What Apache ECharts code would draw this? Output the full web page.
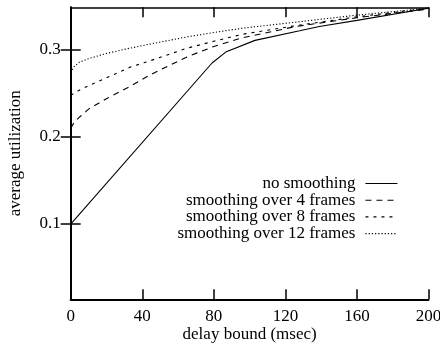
<!DOCTYPE html>
<html>
<head>
<meta charset="utf-8">
<script src="https://cdn.jsdelivr.net/npm/echarts@6/dist/echarts.min.js"></script>
<style>html,body{margin:0;padding:0;background:#fff}#c{width:440px;height:346px}</style>
</head>
<body>
<div id="c"></div>
<script>
// Data
const seriesNames = ['no smoothing', 'smoothing over 4 frames', 'smoothing over 8 frames', 'smoothing over 12 frames'];
const xNoSmooth = [0, 79, 87, 103, 128, 139, 160, 200];
const yNoSmooth = [0.100, 0.285, 0.298, 0.311, 0.322, 0.327, 0.334, 0.348];
const x4 = [0, 2, 5, 10, 20, 33, 45, 65, 80, 96, 126, 160, 200];
const y4 = [0.210, 0.217, 0.223, 0.232, 0.244, 0.258, 0.272, 0.292, 0.304, 0.314, 0.327, 0.337, 0.347];
const x8 = [0, 5, 10, 20, 33, 45, 65, 80, 96, 126, 160, 200];
const y8 = [0.248, 0.254, 0.259, 0.268, 0.280, 0.288, 0.302, 0.310, 0.318, 0.328, 0.338, 0.348];
const x12 = [0, 2, 5, 10, 20, 33, 45, 65, 80, 96, 126, 160, 200];
const y12 = [0.274, 0.281, 0.286, 0.290, 0.296, 0.302, 0.307, 0.315, 0.320, 0.325, 0.332, 0.340, 0.348];
const yTicks = [0.1, 0.2, 0.3];
const xTitle = 'delay bound (msec)';
const yTitle = 'average utilization';

const pairs = (xs, ys) => xs.map((x, i) => [x, ys[i]]);
const FONT = 'Liberation Serif';
const dashes = ['solid', [6, 5], [3, 5], [1.2, 2]];
const allData = [pairs(xNoSmooth, yNoSmooth), pairs(x4, y4), pairs(x8, y8), pairs(x12, y12)];

const chart = echarts.init(document.getElementById('c'), null, {renderer: 'canvas'});
const Y_MIN = 0.0135, Y_MAX = 0.349;
const axisLine = w => ({show: true, lineStyle: {color: '#000', width: w}});
chart.setOption({
  animation: false,
  backgroundColor: '#fff',
  grid: {left: 70.7, right: 11.5, top: 7.3, bottom: 46.7, outerBoundsMode: 'none', containLabel: false},
  textStyle: {fontFamily: FONT},
  legend: {
    orient: 'vertical', right: 42, top: 175, padding: 0,
    align: 'right', itemWidth: 32, itemHeight: 14, itemGap: -0.3,
    itemStyle: {opacity: 0},
    lineStyle: {width: 1.1},
    textStyle: {fontFamily: FONT, fontSize: 17, color: '#000', padding: [0, 5, 0, 0]},
    data: seriesNames,
    inactiveColor: '#000'
  },
  xAxis: [{
    type: 'value', min: 0, max: 200, interval: 40, position: 'bottom',
    name: xTitle, nameLocation: 'middle', nameGap: 27, nameMoveOverlap: false,
    nameTextStyle: {fontFamily: FONT, fontSize: 17, color: '#000'},
    axisLine: axisLine(2),
    axisTick: {show: true, inside: true, length: 10, lineStyle: {color: '#000', width: 1.5}},
    axisLabel: {fontFamily: FONT, fontSize: 17, color: '#000', margin: 9},
    splitLine: {show: false}
  }, {
    type: 'value', min: 0, max: 200, interval: 40, position: 'top',
    axisLine: axisLine(1.5),
    axisTick: {show: true, inside: true, length: 10, lineStyle: {color: '#000', width: 1.5}},
    axisLabel: {show: false}, splitLine: {show: false}
  }],
  yAxis: [{
    type: 'value', min: Y_MIN, max: Y_MAX, position: 'left',
    name: yTitle, nameLocation: 'middle', nameGap: 47, nameRotate: 90, nameMoveOverlap: false,
    nameTextStyle: {fontFamily: FONT, fontSize: 17, color: '#000'},
    axisLine: axisLine(2),
    axisTick: {show: true, inside: true, length: 10, customValues: yTicks, lineStyle: {color: '#000', width: 1.5}},
    axisLabel: {fontFamily: FONT, fontSize: 17, color: '#000', margin: 10, customValues: yTicks, formatter: v => v.toFixed(1)},
    splitLine: {show: false}
  }, {
    type: 'value', min: Y_MIN, max: Y_MAX, position: 'right',
    axisLine: axisLine(1.5),
    axisTick: {show: true, inside: true, length: 10, customValues: yTicks, lineStyle: {color: '#000', width: 1.5}},
    axisLabel: {show: false}, splitLine: {show: false}
  }],
  series: seriesNames.map((n, i) => ({
    name: n, type: 'line', xAxisIndex: 0, yAxisIndex: 0,
    data: allData[i], symbol: 'none', showSymbol: false, smooth: false,
    lineStyle: {color: '#000', width: 1.1, type: dashes[i]},
    itemStyle: {color: '#000'}
  }))
});
</script>
</body>
</html>
